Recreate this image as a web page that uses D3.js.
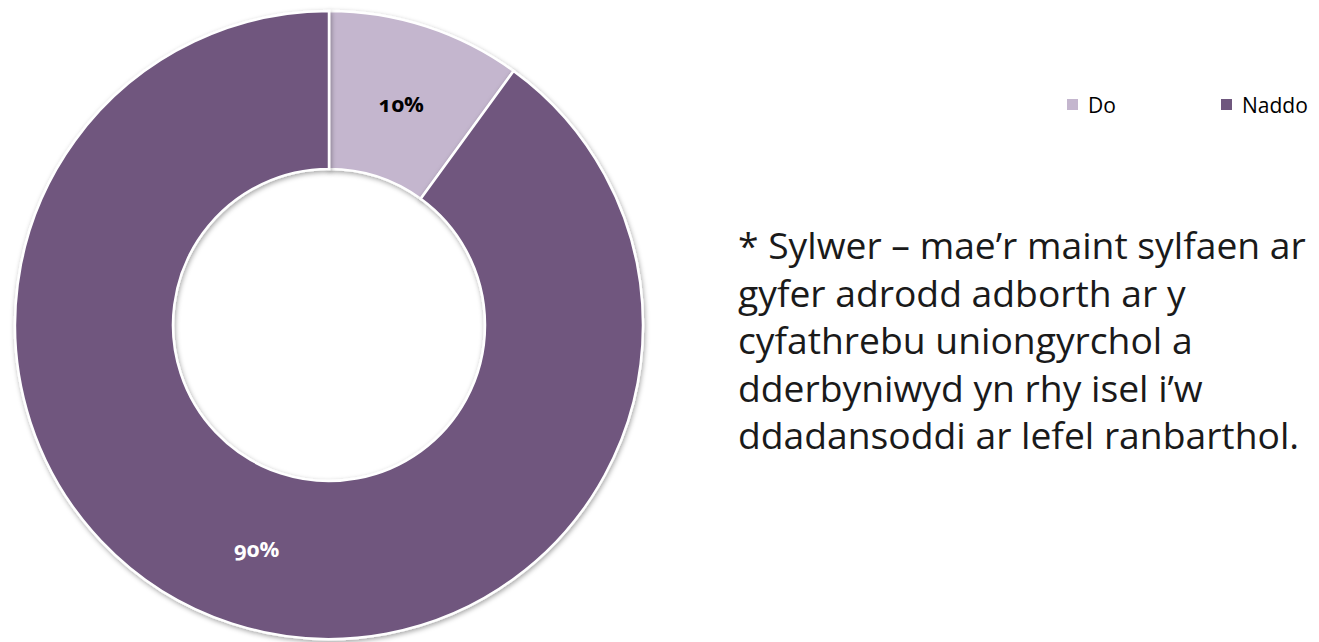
<!DOCTYPE html>
<html><head><meta charset="utf-8">
<script src="https://cdn.jsdelivr.net/npm/d3@7"></script>
<style>body{margin:0;background:#fff;}svg{display:block;}</style>
</head><body>
<svg id="chart" width="1319" height="642"></svg>
<script>
const categories = ["Do", "Naddo"];
const values = [10, 90];
const labels = ["10%", "90%"];
const colors = ["#C4B6CE", "#6F577E"];
const noteLines = [
  "* Sylwer – mae’r maint sylfaen ar",
  "gyfer adrodd adborth ar y",
  "cyfathrebu uniongyrchol a",
  "dderbyniwyd yn rhy isel i’w",
  "ddadansoddi ar lefel ranbarthol."
];

const svg = d3.select("#chart");
const defs = svg.append("defs");
const f = defs.append("filter").attr("id","sh").attr("x","-10%").attr("y","-10%").attr("width","120%").attr("height","120%");
f.append("feDropShadow").attr("dx",1).attr("dy",2).attr("stdDeviation",2.5).attr("flood-color","#000").attr("flood-opacity",0.35);

const cx = 329, cy = 325, R = 314, r = 156;
const pie = d3.pie().sort(null).value(d => d)(values);
const arc = d3.arc().innerRadius(r).outerRadius(R);
const g = svg.append("g").attr("transform", `translate(${cx},${cy})`);
g.selectAll("path").data(pie).join("path")
  .attr("d", arc)
  .attr("fill", (d,i) => colors[i])
  .attr("stroke", "#fff").attr("stroke-width", 2.5)
  .attr("filter","url(#sh)");
const labelArc = d3.arc().innerRadius(r).outerRadius(R-2);
g.selectAll("text").data(pie).join("text")
  .attr("transform", d => `translate(${labelArc.centroid(d)})`)
  .attr("text-anchor","middle").attr("dy","0.45em")
  .attr("font-family","'Open Sans', sans-serif").attr("font-weight","bold").attr("font-size",22)
  .style("font-variant-numeric","oldstyle-nums")
  .attr("fill",(d,i)=> i===0 ? "#000" : "#fff")
  .text((d,i)=>labels[i]);

// legend
const legX = [1067, 1221];
const leg = svg.append("g");
categories.forEach((c,i)=>{
  leg.append("rect").attr("x",legX[i]).attr("y",99).attr("width",11).attr("height",11).attr("fill",colors[i]);
  leg.append("text").attr("x",legX[i]+21).attr("y",113).attr("font-family","'Open Sans', sans-serif")
    .attr("font-size",21).attr("fill","#000").text(c);
});

// note
const note = svg.append("text").attr("font-family","'Open Sans', sans-serif").attr("font-size",30).attr("fill","#1a1a1a");
noteLines.forEach((t,i)=>{
  note.append("tspan").attr("x",738).attr("y",259 + i*47.5).text(t);
});
const first = note.select("tspan").node();
const w = first.getComputedTextLength();
note.attr("font-size", 30 * 568 / w);
</script>
</body></html>
